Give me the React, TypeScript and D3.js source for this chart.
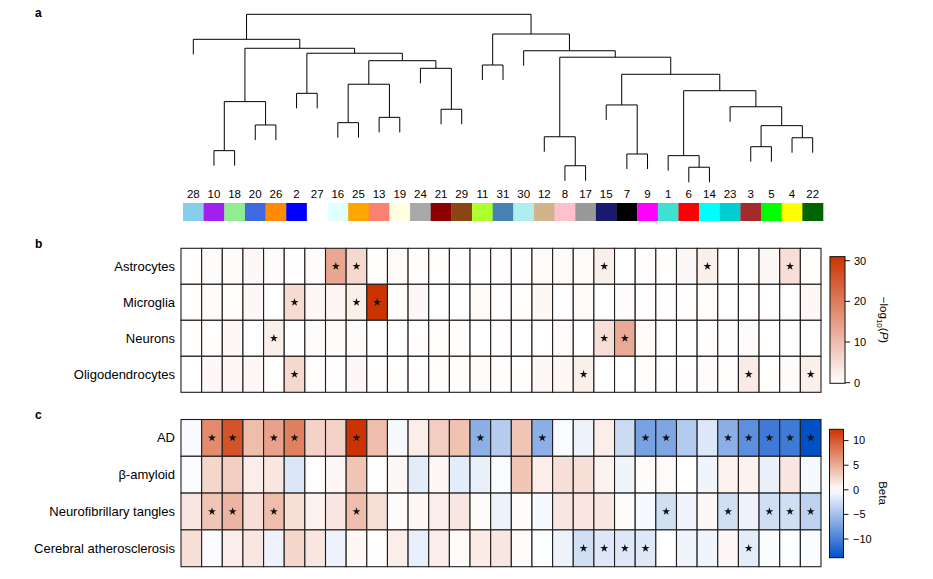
import React from "react";
import * as d3 from "d3";

// ---------- DATA ----------
// Module colours (WGCNA standard colours), indexed by module number 1..31
const moduleColors: string[] = [
  "#40E0D0", "#0000FF", "#A52A2A", "#FFFF00", "#00FF00", "#FF0000", "#000000", "#FFC0CB",
  "#FF00FF", "#A020F0", "#ADFF2F", "#D2B48C", "#FA8072", "#00FFFF", "#191970", "#E0FFFF",
  "#999999", "#90EE90", "#FFFFE0", "#4169E1", "#8B0000", "#006400", "#00CED1", "#A9A9A9",
  "#FFA500", "#FF8C00", "#FFFFFF", "#87CEEB", "#8B4513", "#AFEEEE", "#4682B4",
];

// Dendrogram: [left, right, mergeHeight]; numbers are module leaves
type TNode = number | [TNode, TNode, number];
const tree: TNode = [
  [28,
    [
      [[10, 18, 0.177], [20, 26, 0.332], 0.473],
      [[2, 27, 0.523],
        [
          [[16, 25, 0.346], [13, 19, 0.378], 0.578],
          [24, [21, 29, 0.427], 0.674],
          0.72,
        ],
        0.765],
      0.795,
    ],
    0.849],
  [[11, 31, 0.694],
    [30,
      [
        [12, [8, 17, 0.086], 0.261],
        [
          [15, [7, 9, 0.157], 0.453],
          [
            [1, [6, 14, 0.077], 0.147],
            [23, [[3, 5, 0.201], [4, 22, 0.255], 0.328], 0.442],
            0.539,
          ],
          0.638,
        ],
        0.741,
      ],
      0.78],
    0.881],
  1.0,
];
const hang = 0.0905;

// Panel b: -log10(P) cell-type enrichment (columns in dendrogram leaf order)
const cellTypes = ["Astrocytes", "Microglia", "Neurons", "Oligodendrocytes"];
const astrocytes = [0.2, 0.5, 0.5, 1, 0.5, 0.3, 0.5, 13.5, 6, 0.2, 0.8, 0.2, 0.2, 0.3, 0.3, 0.3, 0.3, 0.8, 0.5, 0.8, 2.5, 0.1, 0.2, 0.2, 1, 2.5, 0.1, 0.2, 1.2, 5, 0.2];
const microglia = [0.2, 0.5, 0.2, 1, 0.1, 5.5, 1, 1.5, 2.5, 31, 0.2, 1, 0.1, 0.1, 0.8, 0.3, 0.2, 1.2, 0.3, 0.8, 0.1, 0.5, 0.3, 0.3, 0.2, 0.2, 0.1, 0.2, 0.3, 0.1, 1.2];
const neurons = [0.2, 0.2, 1, 0.1, 2.5, 0.3, 0.5, 0.8, 0.5, 0.1, 0.3, 0.2, 0.2, 0.2, 0.1, 0.3, 0.1, 0.3, 0.6, 0.1, 5, 13, 0.6, 0.1, 0.1, 0.2, 0.3, 0.5, 0.2, 0.1, 0.1];
const oligodendrocytes = [0.1, 1, 1, 1.2, 0.2, 6, 0.2, 0.3, 1, 0.2, 0.2, 0.3, 0.2, 0.2, 0.8, 0.2, 0.2, 1.2, 1.2, 2.5, 0.1, 0.1, 0.2, 0.3, 0.3, 0.5, 0.2, 3, 0.2, 0.5, 2.5];
const cellSig = [
  [7, 8, 20, 25, 29],
  [5, 8, 9],
  [4, 20, 21],
  [5, 19, 27, 30],
];
const pTicks = [0, 10, 20, 30];
const pMax = 31;

// Panel c: Beta for traits
const traits = ["AD", "\u03B2-amyloid", "Neurofibrillary tangles", "Cerebral atherosclerosis"];
const adBeta = [-0.4, 7, 10.3, 4, 5.6, 7.6, 2.7, 2.7, 12.3, 4, -0.5, 1, 3, 3.7, -6.2, -4, 3.5, -6.3, -0.3, -1, 1, -2.8, -7.3, -7, -4.2, -1.9, -6.3, -8.8, -10.4, -10.4, -13.8];
const amyloidBeta = [-0.3, 2.5, 3, 1, 1.5, -2, 0.1, 0.5, 3.5, 0.1, 0.5, -1.5, 0.5, -1.5, -1.2, -0.3, 3.5, 1, 2, 2, 0.8, -0.8, 0.2, 0.3, 0, -0.8, 0.8, 0.8, -1.2, 1.5, -0.5];
const tanglesBeta = [1.5, 3.5, 4.5, 2, 4, 2, 0.8, 1.5, 4, 2, 0.2, 0.5, 1, 1.5, 0.2, -1, 0.2, -0.5, 1.5, 1.5, 1.5, 0.2, -0.5, -2.5, -0.8, 0.5, -2.5, -1, -2.5, -2.5, -3.5];
const atheroBeta = [2, -0.3, 1, 1.5, -1, 2.5, 1.5, -1, 0.5, 0.1, 1, -1.3, 1, 0.3, 1.2, 1.5, 0.3, -0.1, -1, -2.5, -1.8, -1.8, -1.8, 0, -0.8, -0.8, 0.5, -1.5, -0.2, -0.1, -0.2];
const traitSig = [
  [1, 2, 4, 5, 8, 14, 17, 22, 23, 26, 27, 28, 29, 30],
  [],
  [1, 2, 4, 8, 23, 26, 28, 29, 30],
  [19, 20, 21, 22, 27],
];
const betaTicks = [-10, -5, 0, 5, 10];
const betaMin = -13.8;
const betaMax = 12.3;

// ---------- LAYOUT ----------
const W = 933;
const H = 579;
const FONT = "'Liberation Sans', Arial, Helvetica, sans-serif";

const cellRows = [astrocytes, microglia, neurons, oligodendrocytes];
const traitRows = [adBeta, amyloidBeta, tanglesBeta, atheroBeta];

function collectLeaves(n: TNode, out: number[]) {
  if (typeof n === "number") out.push(n);
  else {
    collectLeaves(n[0], out);
    collectLeaves(n[1], out);
  }
  return out;
}
const leafOrder = collectLeaves(tree, []);
const cols = leafOrder.map((_, i) => i);

export default function App() {
  const xStrip = d3.scaleBand<number>().domain(cols).range([183, 823]);
  const xHeat = d3.scaleBand<number>().domain(cols).range([181, 821]);
  const yDen = d3.scaleLinear().domain([0, 1]).range([180, 14.3]);
  const yB = d3.scaleBand<number>().domain([0, 1, 2, 3]).range([248.3, 392.3]);
  const yC = d3.scaleBand<number>().domain([0, 1, 2, 3]).range([419.5, 566.7]);

  const colB = d3.scaleLinear<string>().domain([0, pMax]).range(["#FFFFFF", "#CC3300"]).clamp(true);
  const colC = d3
    .scaleLinear<string>()
    .domain([betaMin, 0, betaMax])
    .range(["#0050C8", "#FFFFFF", "#CC3300"])
    .clamp(true);

  // dendrogram segments
  const segs: string[] = [];
  let counter = 0;
  const lay = (n: TNode): { x: number; h: number | null } => {
    if (typeof n === "number") {
      const i = counter++;
      return { x: (xStrip(i) as number) + xStrip.bandwidth() / 2, h: null };
    }
    const l = lay(n[0]);
    const r = lay(n[1]);
    const h = n[2];
    const hl = l.h === null ? h - hang : l.h;
    const hr = r.h === null ? h - hang : r.h;
    const p = d3.path();
    p.moveTo(l.x, yDen(hl));
    p.lineTo(l.x, yDen(h));
    p.lineTo(r.x, yDen(h));
    p.lineTo(r.x, yDen(hr));
    segs.push(p.toString());
    return { x: (l.x + r.x) / 2, h };
  };
  lay(tree);

  const star = d3.symbol().type(d3.symbolStar).size(20)() as string;

  // legends
  const legB = d3.scaleLinear().domain([0, 30]).range([382.7, 260.7]);
  const legC = d3.scaleLinear().domain([betaMin, betaMax]).range([557.7, 429.3]);
  const gradB = d3.range(0, 11).map((i) => ({ off: i / 10, c: colB((pMax * (10 - i)) / 10) }));
  const gradC = d3.range(0, 21).map((i) => {
    const v = betaMax - ((betaMax - betaMin) * i) / 20;
    return { off: i / 20, c: colC(v) };
  });

  const heat = (
    rows: number[][],
    sig: number[][],
    labels: string[],
    y: d3.ScaleBand<number>,
    color: (v: number) => string
  ) => (
    <g>
      {rows.map((row, r) =>
        row.map((v, c) => (
          <rect
            key={`${r}-${c}`}
            x={xHeat(c)}
            y={y(r)}
            width={xHeat.bandwidth()}
            height={y.bandwidth()}
            fill={color(v)}
            stroke="#1e1e1e"
            strokeWidth={1.1}
          />
        ))
      )}
      {sig.map((list, r) =>
        list.map((c) => (
          <path
            key={`s${r}-${c}`}
            d={star}
            transform={`translate(${(xHeat(c) as number) + xHeat.bandwidth() / 2},${(y(r) as number) + y.bandwidth() / 2})`}
            fill="#111"
          />
        ))
      )}
      {labels.map((t, r) => (
        <text
          key={t}
          x={175}
          y={(y(r) as number) + y.bandwidth() / 2}
          dy="0.35em"
          textAnchor="end"
          fontSize={13}
          fill="#000"
        >
          {t}
        </text>
      ))}
    </g>
  );

  return (
    <svg
      width={W}
      height={H}
      style={{ position: "absolute", left: 0, top: 0, background: "#fff" }}
      fontFamily={FONT}
    >
      <defs>
        <linearGradient id="gB" x1="0" y1="0" x2="0" y2="1">
          {gradB.map((s, i) => (
            <stop key={i} offset={s.off} stopColor={s.c} />
          ))}
        </linearGradient>
        <linearGradient id="gC" x1="0" y1="0" x2="0" y2="1">
          {gradC.map((s, i) => (
            <stop key={i} offset={s.off} stopColor={s.c} />
          ))}
        </linearGradient>
      </defs>

      {/* panel labels */}
      <text x={35} y={17} fontWeight="bold" fontSize={12}>a</text>
      <text x={35} y={248} fontWeight="bold" fontSize={12}>b</text>
      <text x={35} y={419} fontWeight="bold" fontSize={12}>c</text>

      {/* dendrogram */}
      <g fill="none" stroke="#000" strokeWidth={1}>
        {segs.map((d, i) => (
          <path key={i} d={d} />
        ))}
      </g>

      {/* leaf labels and colour strip */}
      {leafOrder.map((m, i) => (
        <g key={m}>
          <text
            x={(xStrip(i) as number) + xStrip.bandwidth() / 2}
            y={198.3}
            textAnchor="middle"
            fontSize={11.5}
            fill="#000"
          >
            {m}
          </text>
          <rect
            x={xStrip(i)}
            y={203}
            width={xStrip.bandwidth() + 0.3}
            height={18}
            fill={moduleColors[m - 1]}
          />
        </g>
      ))}

      {/* panel b */}
      {heat(cellRows, cellSig, cellTypes, yB, colB)}

      {/* panel c */}
      {heat(traitRows, traitSig, traits, yC, colC)}

      {/* legend b */}
      <rect x={830} y={legB(pMax)} width={15} height={legB(0) - legB(pMax) + 0.6} fill="url(#gB)" stroke="#111" strokeWidth={1} />
      {pTicks.map((t) => (
        <g key={t}>
          <line x1={845} x2={850} y1={legB(t)} y2={legB(t)} stroke="#111" />
          <text x={854} y={legB(t)} dy="0.35em" fontSize={11} fill="#000">
            {t}
          </text>
        </g>
      ))}
      <text transform="translate(880,320) rotate(90)" textAnchor="middle" fontSize={11.5} fill="#000">
        {"\u2212log"}
        <tspan fontSize={8} dy={3}>10</tspan>
        <tspan dy={-3}>(</tspan>
        <tspan fontStyle="italic">P</tspan>
        <tspan>)</tspan>
      </text>

      {/* legend c */}
      <rect x={829.5} y={legC(betaMax)} width={14} height={legC(betaMin) - legC(betaMax)} fill="url(#gC)" stroke="#111" strokeWidth={1} />
      {betaTicks.map((t) => (
        <g key={t}>
          <line x1={843.5} x2={848.5} y1={legC(t)} y2={legC(t)} stroke="#111" />
          <text x={853} y={legC(t)} dy="0.35em" fontSize={11} fill="#000">
            {t < 0 ? `\u2212${Math.abs(t)}` : `${t}`}
          </text>
        </g>
      ))}
      <text transform="translate(879,493) rotate(90)" textAnchor="middle" fontSize={11.5} fill="#000">
        Beta
      </text>
    </svg>
  );
}
